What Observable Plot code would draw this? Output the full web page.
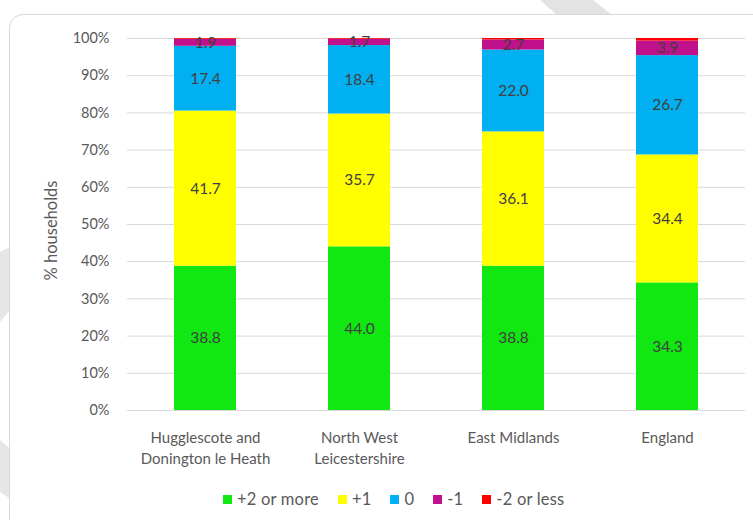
<!DOCTYPE html>
<html>
<head>
<meta charset="utf-8">
<script src="https://cdn.jsdelivr.net/npm/d3@7"></script>
<script src="https://cdn.jsdelivr.net/npm/@observablehq/plot@0.6"></script>
<style>
  html, body { margin: 0; padding: 0; background: #fff; }
  body { width: 753px; height: 520px; position: relative; overflow: hidden; font-family: Lato, "Open Sans", sans-serif; }
  #bg { position: absolute; left: 0; top: 0; }
  #frame { position: absolute; left: 9px; top: 14px; width: 770px; height: 530px; border: 1.5px solid #d9d9d9; border-radius: 14px; background: #fff; }
  #chart { position: absolute; left: 0; top: 0; }
  #legend { position: absolute; left: 0; width: 753px; top: 489px; display: flex; justify-content: flex-start; padding-left: 223px; gap: 19px; font-size: 16.5px; letter-spacing: 0.2px; color: #595959; box-sizing: border-box; }
  #legend div { white-space: nowrap; }
  #legend span.sw { display: inline-block; width: 9px; height: 9px; margin-right: 5px; vertical-align: 1px; }
</style>
</head>
<body>
<svg id="bg" width="753" height="520">
  <polygon points="540,0 593,0 616,18 560,18" fill="#e3e3e3"/>
  <polygon points="0,252 12,246 12,308 0,322" fill="#e6e6e6"/>
  <polygon points="0,440 12,450 12,500 0,492" fill="#e6e6e6"/>
</svg>
<div id="frame"></div>
<div id="chart"></div>
<div id="legend"></div>
<script>
const categories = ["Hugglescote and\nDonington le Heath", "North West\nLeicestershire", "East Midlands", "England"];
const series = ["+2 or more", "+1", "0", "-1", "-2 or less"];
const colors = ["#11e711", "#ffff00", "#00b0f0", "#c0108c", "#ff0000"];
const plus2 = [38.8, 44.0, 38.8, 34.3];
const plus1 = [41.7, 35.7, 36.1, 34.4];
const zero = [17.4, 18.4, 22.0, 26.7];
const minus1 = [1.9, 1.7, 2.7, 3.9];
const minus2 = [0.2, 0.2, 0.4, 0.7];
const yTicks = [0, 10, 20, 30, 40, 50, 60, 70, 80, 90, 100];

const seriesValues = [plus2, plus1, zero, minus1, minus2];
const data = [];
series.forEach((s, si) => {
  categories.forEach((c, ci) => {
    data.push({category: c, series: s, value: seriesValues[si][ci]});
  });
});

const plot = Plot.plot({
  width: 753,
  height: 475,
  marginTop: 38,
  marginBottom: 65,
  marginLeft: 127,
  marginRight: 8,
  style: {fontFamily: "Lato, 'Open Sans', sans-serif", fontSize: "15px", color: "#595959", background: "transparent"},
  x: {domain: categories, paddingInner: 0.6, paddingOuter: 0.3, label: null},
  y: {domain: [0, 100], label: null},
  color: {domain: series, range: colors},
  marks: [
    Plot.ruleY(yTicks, {stroke: "#d9d9d9", strokeWidth: 1}),
    Plot.axisY({ticks: yTicks, tickFormat: d => d + "%", tickSize: 0, tickPadding: 18, label: null, fontSize: 14.5}),
    Plot.text(["% households"], {frameAnchor: "left", dx: -76, dy: 6, rotate: -90, fontSize: 16.5, fill: "#595959", textAnchor: "middle"}),
    Plot.barY(data, Plot.stackY({x: "category", y: "value", fill: "series", order: series})),
    Plot.text(data.filter(d => d.series !== "-2 or less"), Plot.stackY({x: "category", y: "value", z: "series", order: series, text: d => d.value.toFixed(1), fill: "#404040", fontSize: 15.5})),
    Plot.axisX({tickSize: 0, tickPadding: 18, label: null, fontSize: 15, lineHeight: 1.4})
  ]
});
document.getElementById("chart").appendChild(plot);

const legend = document.getElementById("legend");
series.forEach((s, i) => {
  const item = document.createElement("div");
  item.innerHTML = `<span class="sw" style="background:${colors[i]}"></span>${s}`;
  legend.appendChild(item);
});
</script>
</body>
</html>
